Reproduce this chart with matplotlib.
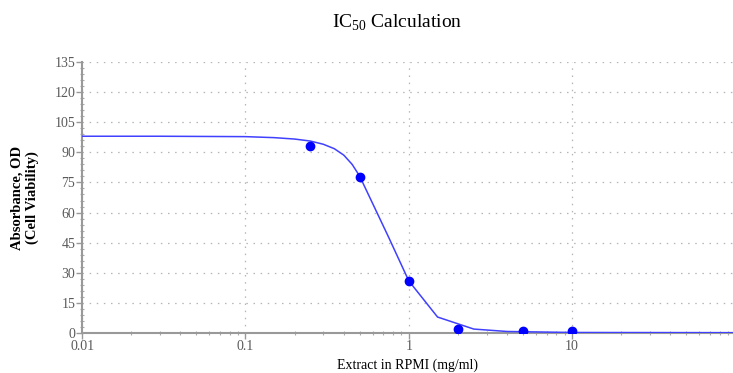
import matplotlib
matplotlib.use("Agg")
import matplotlib.pyplot as plt
from matplotlib.ticker import FixedLocator, MultipleLocator, LogLocator, NullFormatter

plt.rcParams['font.family'] = ['Liberation Serif', 'DejaVu Serif']
plt.rcParams['mathtext.fontset'] = 'custom'
plt.rcParams['mathtext.rm'] = 'Liberation Serif'

# measured points
conc = [0.25, 0.5, 1, 2, 5, 10]
viability = [93, 77.5, 26, 2, 1, 1]

# fitted curve
fit_x = [0.01, 0.03, 0.1, 0.15, 0.2, 0.25, 0.3, 0.35, 0.4, 0.45, 0.5, 0.75, 1.0, 1.5, 2.5, 4, 10, 100]
fit_y = [98, 98, 97.8, 97.3, 96.6, 95.6, 94.0, 91.8, 88.6, 84.0, 78.2, 48, 26, 8, 2, 0.8, 0.3, 0.2]

xticks = [0.01, 0.1, 1, 10]
xticklabels = ['0.01', '0.1', '1', '10']
yticks = list(range(0, 136, 15))

fig = plt.figure(figsize=(7.33, 3.73), dpi=100)
ax = fig.add_axes([0.112, 0.107, 0.888, 0.727])

ax.plot(fit_x, fit_y, color='#4040ff', lw=1.1, zorder=3)
ax.plot(conc, viability, 'o', color='#0000ff', ms=6, zorder=4)

ax.set_xscale('log')
ax.set_xlim(0.01, 10 ** 1.985)
ax.set_ylim(0, 135)

ax.xaxis.set_major_locator(FixedLocator(xticks))
ax.set_xticklabels(xticklabels)
ax.xaxis.set_minor_locator(LogLocator(base=10, subs=range(2, 10), numticks=20))
ax.xaxis.set_minor_formatter(NullFormatter())
ax.set_yticks(yticks)
ax.yaxis.set_minor_locator(MultipleLocator(3))

gc = '#b5b5b5'
ax.grid(True, which='major', color=gc, linestyle=(0, (1.2, 4.5)), lw=0.9)
for s in ['top', 'right']:
    ax.spines[s].set_visible(False)
for s in ['left', 'bottom']:
    ax.spines[s].set_color('#999999')
    ax.spines[s].set_linewidth(1.5)

ax.tick_params(which='major', length=4, width=1, color='#999999', labelcolor='#5a5a5a', labelsize=10, pad=1)
ax.tick_params(which='minor', length=3, width=0.8, color='#aaaaaa', direction='inout')

ax.set_xlabel('Extract in RPMI (mg/ml)', fontsize=10, labelpad=4)
ax.set_ylabel('Absorbance, OD\n(Cell Viability)', fontsize=10.5, fontweight='bold', labelpad=11, linespacing=1.2)

fig.text(0.542, 0.94, r'IC$_{\mathrm{50}}$ Calculation', ha='center', va='center', fontsize=14)

fig.savefig('out.png', dpi=100)
